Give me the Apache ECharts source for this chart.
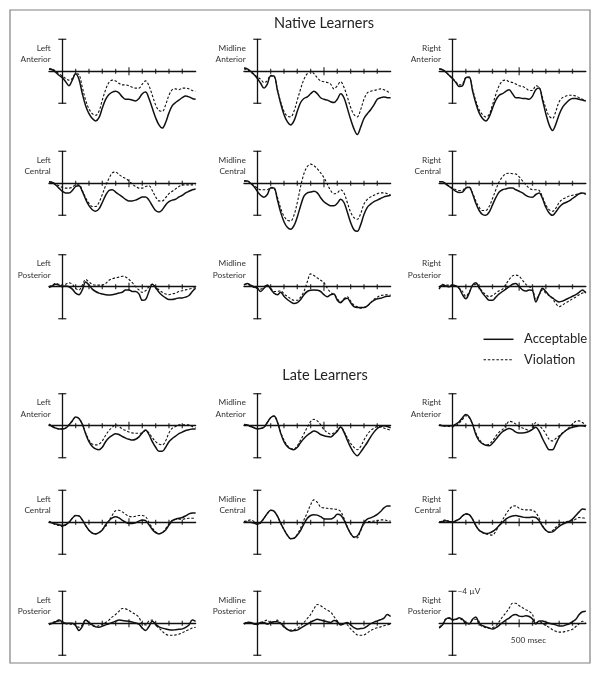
<!DOCTYPE html>
<html><head><meta charset="utf-8">
<script src="https://cdn.jsdelivr.net/npm/echarts@6/dist/echarts.min.js"></script>
<style>html,body{margin:0;padding:0;background:#fff}#c{width:602px;height:674px}</style>
</head><body><div id="c"></div>
<script>
// ---------- data ----------
const times = [-100,-75,-50,-25,0,25,50,75,100,125,150,175,200,225,250,275,300,325,350,375,400,425,450,475,500,525,550,575,600,625,650,675,700,725,750,775,800,825,850,875,900,925,950,975,1000];
const groupTitles = ['Native Learners', 'Late Learners'];
const hemiLabels = ['Left', 'Midline', 'Right'];
const regionLabels = ['Anterior', 'Central', 'Posterior'];
const legendLabels = ['Acceptable', 'Violation'];
const xTicks = [100,200,300,400,500,600,700,800,900];
const yLimits = [-4, 4];
const scaleLabel = '\u22124 \u00b5V';
const timeLabel = '500 msec';

// Native learners (µV, negative plotted up)
const NLA_acc = [-0.3,-0.2,0.1,0.5,0.8,1.3,1.8,1.1,0.3,1.0,2.8,4.3,5.3,5.9,6.2,5.8,4.6,3.5,2.9,2.6,2.5,2.7,3.2,3.5,3.5,3.6,3.7,3.4,2.8,2.6,3.4,4.6,5.8,6.7,7.1,6.4,5.2,4.3,3.9,3.6,3.3,3.1,3.2,3.4,3.5];
const NLA_vio = [-0.3,-0.3,0,0.3,0.6,0.9,1.1,0.9,0.3,0.4,2.0,3.6,4.7,5.3,5.5,5.0,3.6,2.3,1.4,1.1,1.2,1.5,1.7,1.7,1.8,2.0,2.1,2.1,1.6,1.2,1.8,3.0,4.2,4.9,5.0,4.2,3.0,2.3,2.2,2.3,2.1,2.1,2.2,2.4,2.5];
const NMA_acc = [-0.4,-0.3,0.0,0.4,0.9,1.5,2.1,1.6,0.6,0.6,2.3,4.0,5.4,6.3,6.7,6.2,5.0,3.9,3.4,3.2,2.8,2.5,2.8,3.3,3.5,3.6,3.8,3.9,3.5,2.8,3.3,4.6,6.0,7.2,7.9,7.0,5.9,5.3,4.8,4.2,3.5,3.3,3.2,3.3,3.3];
const NMA_vio = [-0.3,-0.2,0.1,0.4,0.7,1.0,1.4,1.2,0.5,0.6,2.2,3.8,5.0,5.6,5.7,5.0,3.6,2.2,1.0,0.3,0.0,0.3,0.8,1.2,1.3,1.4,1.6,2.2,1.8,1.3,2.0,3.2,4.5,5.4,5.7,4.8,3.5,2.7,2.5,2.4,2.3,2.2,2.3,2.5,2.8];
const NRA_acc = [-0.3,-0.2,0.1,0.5,0.9,1.4,1.9,1.8,0.8,0.7,2.4,4.0,5.2,5.9,6.2,5.7,4.6,3.6,3.0,2.8,2.5,2.3,2.8,3.3,3.3,3.4,3.4,3.5,3.1,2.3,2.1,3.6,5.3,6.7,7.4,6.6,5.4,4.5,4.0,3.6,3.4,3.4,3.5,3.6,3.7];
const NRA_vio = [-0.3,-0.2,0.1,0.5,0.9,1.3,1.7,1.6,0.8,0.8,2.2,3.7,4.8,5.4,5.7,5.4,4.2,2.9,1.8,1.2,1.1,1.3,1.4,1.6,1.8,1.9,2.1,2.4,2.4,1.8,2.0,3.3,4.6,5.6,5.9,5.0,3.8,3.3,3.1,3.0,3.0,3.1,3.3,3.5,3.6];
const NLC_acc = [-0.2,-0.1,0.2,0.6,1.0,1.2,1.2,0.9,0.4,0.3,1.0,2.0,2.8,3.3,3.5,3.2,2.4,1.5,0.9,0.8,1.1,1.4,1.7,2.0,2.2,2.2,2.1,1.9,1.7,1.7,2.1,2.8,3.4,3.6,3.3,2.7,2.3,2.1,2.0,1.7,1.5,1.2,1.0,0.8,0.7];
const NLC_vio = [-0.2,-0.1,0.1,0.3,0.5,0.6,0.6,0.5,0.2,0.2,0.9,1.8,2.5,2.9,2.9,2.4,1.4,0.3,-0.6,-1.3,-1.4,-1.1,-0.8,-0.6,-0.3,0.1,0.4,0.6,0.6,0.4,0.3,0.9,1.7,2.2,2.2,1.8,1.3,1.0,0.7,0.4,0.2,0.2,0.2,0.2,0.2];
const NMC_acc = [-0.3,-0.3,0.0,0.4,1.0,1.5,1.75,1.4,0.6,0.6,2.0,3.6,4.8,5.5,5.75,5.3,4.2,2.8,1.6,1.2,1.1,1.0,1.2,1.8,2.3,2.6,2.8,2.8,2.5,2.0,2.4,3.6,4.9,5.8,6.0,5.2,3.9,3.0,2.6,2.3,2.1,1.9,1.7,1.6,1.5];
const NMC_vio = [-0.3,-0.3,0.0,0.3,0.6,0.8,0.8,0.8,0.5,0.6,1.7,3.1,4.1,4.6,4.7,4.0,2.4,0.4,-1.2,-2.1,-2.4,-2.2,-1.8,-1.3,-0.7,0.1,0.9,1.3,1.2,0.8,1.2,2.4,3.6,4.3,4.5,3.8,2.6,2.0,1.7,1.5,1.3,1.2,1.2,1.3,1.5];
const NRC_acc = [-0.2,-0.2,0.1,0.4,0.7,1.0,1.15,1.1,0.6,0.5,1.3,2.5,3.4,3.9,4.0,3.6,2.7,1.8,1.1,0.8,0.7,0.6,0.6,0.8,1.0,1.2,1.5,1.7,1.75,1.4,1.2,1.9,3.0,3.7,4.0,3.6,3.0,2.6,2.4,2.2,1.9,1.6,1.3,1.2,1.4];
const NRC_vio = [-0.2,-0.2,0.1,0.3,0.6,0.8,0.9,0.9,0.5,0.5,1.2,2.2,3.0,3.4,3.4,2.9,1.9,0.8,-0.2,-0.8,-1.2,-1.25,-1.2,-1.15,-0.8,-0.3,0.2,0.6,0.8,0.8,0.9,1.7,2.7,3.3,3.5,3.1,2.4,2.0,1.8,1.6,1.5,1.4,1.3,1.2,1.25];
const NLP_acc = [0.1,-0.1,-0.3,-0.2,0.0,-0.1,0.0,0.3,0.8,1.0,0.4,-0.6,-0.2,0.3,0.6,0.8,0.9,1.0,1.05,1.0,0.9,0.8,0.7,0.4,0.4,0.6,0.6,0.9,1.7,1.6,0.6,-0.3,0.1,0.7,1.1,1.4,1.6,1.6,1.5,1.4,1.4,1.3,1.1,0.6,0.2];
const NLP_vio = [0.0,-0.2,-0.4,-0.3,-0.2,-0.3,-0.5,-0.3,0.2,0.4,-0.2,-0.9,-0.6,-0.3,-0.2,-0.2,-0.2,-0.4,-0.8,-1.0,-1.1,-1.2,-1.3,-1.2,-0.9,-0.5,0.0,0.4,0.7,0.5,0.0,-0.3,0.0,0.4,0.7,0.9,1.0,0.9,0.8,0.6,0.5,0.4,0.3,0.2,0.1];
const NMP_acc = [-0.2,-0.4,-0.2,0.0,0.2,0.6,0.2,-0.2,0.3,0.8,1.0,0.7,1.2,1.6,1.9,2.1,2.0,1.6,1.0,0.6,0.45,0.4,0.45,0.6,1.0,1.25,1.0,0.9,1.7,2.0,1.6,1.45,2.0,2.5,2.6,2.6,2.6,2.4,2.0,1.7,1.5,1.45,1.3,1.2,1.15];
const NMP_vio = [-0.3,-0.3,-0.1,0.1,0.2,0.3,0.0,-0.2,0.2,0.6,0.6,0.5,0.9,1.2,1.5,1.7,1.7,1.3,0.6,-0.6,-1.6,-1.4,-1.1,-0.8,-0.5,0.2,0.7,1.0,1.5,1.9,1.5,1.25,1.8,2.3,2.5,2.7,2.6,2.4,2.0,1.6,1.3,1.1,1.05,1.0,1.05];
const NRP_acc = [0.3,-0.2,-0.1,0.0,-0.2,-0.1,0.2,1.0,1.5,0.8,-0.2,-0.5,0.1,0.8,1.3,1.7,1.7,1.3,0.9,0.6,0.3,0.0,-0.3,-0.4,0.0,0.4,0.55,0.4,0.5,1.9,1.0,0.2,0.6,1.1,1.4,1.7,1.9,1.8,1.6,1.4,1.2,1.0,0.7,0.4,0.8];
const NRP_vio = [0.1,-0.3,-0.2,-0.2,-0.2,-0.1,0.2,0.6,1.2,0.7,-0.1,-0.3,0.1,0.6,1.0,1.25,1.1,0.8,0.5,0.3,-0.3,-0.9,-1.35,-1.45,-1.3,-0.8,-0.3,0.0,0.3,1.6,1.0,0.4,0.8,1.1,1.5,2.1,2.5,2.3,2.0,1.8,1.5,1.3,1.0,0.8,0.6];
// Late learners
const LLA_acc = [-0.2,0.1,0.3,0.4,0.4,0.3,-0.1,-0.6,-1.1,-0.9,-0.2,1.0,2.0,2.6,2.9,3.0,2.7,2.0,1.5,1.2,1.0,1.1,1.35,1.55,1.7,1.8,1.7,1.4,0.9,0.55,1.1,2.0,2.7,3.2,3.2,2.7,2.0,1.6,1.3,1.0,0.8,0.6,0.5,0.4,0.4];
const LLA_vio = [-0.2,0.1,0.3,0.4,0.4,0.3,-0.1,-0.6,-1.1,-0.9,-0.2,0.9,1.8,2.3,2.4,2.3,1.9,1.2,0.6,0.2,-0.1,0.1,0.4,0.6,0.8,0.9,0.95,0.95,0.9,0.6,0.9,1.5,2.0,2.3,2.4,1.9,0.9,0.3,0.1,-0.1,-0.1,-0.1,-0.1,0.1,0.3];
const LMA_acc = [-0.15,-0.1,0.1,0.25,0.4,0.35,0.2,-0.4,-1.0,-1.2,-0.5,0.9,2.0,2.6,2.9,3.0,2.7,2.1,1.6,1.2,0.9,0.65,0.8,1.1,1.25,1.35,1.4,1.1,0.7,0.15,0.8,1.8,2.7,3.4,3.75,3.3,2.7,2.1,1.4,0.8,0.35,0.1,0.0,0.1,0.25];
const LMA_vio = [-0.15,-0.1,0.1,0.25,0.35,0.35,0.2,-0.4,-1.0,-1.2,-0.5,0.8,1.8,2.5,2.85,2.9,2.5,1.8,1.0,0.2,-0.5,-0.8,-0.6,-0.1,0.5,0.85,1.05,0.9,0.6,0.15,0.7,1.5,2.2,2.7,3.0,2.6,1.8,1.1,0.6,0.3,0.1,0.15,0.3,0.45,0.55];
const LRA_acc = [-0.1,0.0,0.0,0.0,0.0,-0.2,-0.5,-1.0,-1.4,-1.1,-0.2,1.1,1.9,2.25,2.45,2.5,2.2,1.7,1.2,0.75,0.5,0.35,0.5,0.8,0.9,0.9,0.85,0.7,0.45,0.2,0.7,1.6,2.4,3.0,3.0,2.3,1.45,0.95,0.6,0.35,0.2,0.1,0.0,0.0,0.1];
const LRA_vio = [-0.1,0.0,0.1,0.1,0.15,0.0,-0.3,-0.8,-1.25,-1.0,-0.2,0.9,1.7,2.2,2.4,2.3,1.9,1.3,0.8,0.5,0.0,-0.55,-0.45,-0.2,0.1,0.3,0.45,0.6,0.4,-0.4,0.0,0.4,1.0,1.7,1.9,1.6,1.25,0.9,0.6,0.2,-0.2,-0.55,-0.6,-0.4,-0.1];
const LLC_acc = [-0.1,0.1,0.2,0.3,0.4,0.3,0.0,-0.5,-0.85,-0.8,-0.3,0.4,1.0,1.35,1.45,1.3,0.95,0.3,-0.2,-0.55,-0.7,-0.55,-0.25,0.0,0.15,0.15,0.05,-0.15,-0.3,-0.2,0.3,0.9,1.3,1.45,1.3,0.95,0.35,-0.2,-0.4,-0.5,-0.6,-0.8,-1.05,-1.15,-1.15];
const LLC_vio = [-0.1,0.1,0.3,0.4,0.55,0.35,0.0,-0.5,-0.85,-0.8,-0.3,0.4,1.0,1.35,1.45,1.3,0.9,0.5,-0.2,-0.9,-1.45,-1.5,-1.3,-1.0,-0.75,-0.7,-0.75,-0.85,-0.85,-0.7,0.0,0.7,1.2,1.4,1.3,0.8,0.2,-0.25,-0.35,-0.4,-0.4,-0.45,-0.5,-0.5,-0.5];
const LMC_acc = [-0.1,0.0,0.0,0.1,0.25,0.0,-0.5,-1.1,-1.5,-1.4,-0.8,0.1,0.9,1.6,2.05,2.0,1.6,1.0,0.2,-0.5,-0.85,-0.95,-0.9,-0.7,-0.45,-0.4,-0.4,-0.6,-1.0,-0.9,-0.3,0.6,1.4,1.85,1.7,1.0,0.0,-0.4,-0.55,-0.75,-1.0,-1.35,-1.8,-2.05,-2.05];
const LMC_vio = [-0.1,-0.2,-0.3,-0.1,0.25,0.1,-0.5,-1.1,-1.5,-1.4,-0.8,0.1,0.9,1.6,2.05,2.0,1.5,0.7,-0.3,-1.2,-2.2,-2.8,-2.5,-1.9,-1.8,-1.75,-1.7,-1.65,-1.6,-1.35,-0.5,0.6,1.4,1.9,1.95,1.0,0.2,-0.1,-0.1,-0.15,-0.2,-0.3,-0.3,-0.2,-0.15];
const LRC_acc = [0.0,-0.1,-0.2,-0.1,0.0,-0.2,-0.4,-0.8,-1.05,-0.95,-0.4,0.4,1.0,1.25,1.4,1.35,1.15,0.85,0.4,0.0,-0.4,-0.65,-0.8,-0.85,-0.75,-0.65,-0.6,-0.6,-0.65,-0.6,-0.2,0.5,1.0,1.25,1.2,0.85,0.5,0.25,0.05,-0.1,-0.4,-0.85,-1.3,-1.65,-1.6];
const LRC_vio = [0.0,-0.2,-0.3,-0.1,0.0,-0.2,-0.4,-0.8,-1.1,-0.95,-0.4,0.4,1.0,1.3,1.45,1.55,1.6,1.1,0.4,-0.3,-1.0,-1.6,-2.0,-2.05,-1.75,-1.6,-1.55,-1.55,-1.5,-1.2,-0.5,0.4,1.0,1.25,1.05,0.6,0.3,0.05,-0.1,-0.15,-0.2,-0.4,-0.6,-0.55,-0.5];
const LLP_acc = [0.15,0.0,-0.2,-0.4,-0.2,0.0,0.0,0.0,0.3,0.9,0.4,-0.4,-0.1,0.2,0.45,0.5,0.35,0.2,0.05,-0.1,-0.25,-0.4,-0.35,-0.3,-0.25,-0.15,-0.05,0.1,0.6,0.9,0.4,-0.25,0.1,0.45,0.6,0.7,0.8,0.85,0.8,0.75,0.7,0.5,0.2,-0.4,-0.25];
const LLP_vio = [0.1,-0.1,-0.2,-0.25,-0.1,0.05,0.1,0.1,0.2,0.5,0.2,-0.45,-0.1,0.3,0.4,0.3,0.15,-0.1,-0.4,-0.8,-1.1,-1.5,-1.85,-1.8,-1.6,-1.35,-1.1,-0.75,0.1,0.2,-0.3,-0.4,0.2,0.6,1.0,1.35,1.5,1.5,1.45,1.35,1.2,0.95,0.8,0.6,0.5];
const LMP_acc = [0.1,-0.1,-0.1,0.1,0.15,-0.1,-0.1,0.1,-0.1,-0.2,-0.2,0.0,0.4,0.75,0.95,0.9,0.85,0.6,0.35,0.1,-0.15,-0.35,-0.5,-0.4,-0.3,-0.2,-0.1,-0.35,-0.2,0.2,0.05,-0.1,0.2,0.55,0.7,0.65,0.6,0.35,0.05,-0.15,-0.3,-0.45,-0.65,-1.1,-0.85];
const LMP_vio = [0.05,-0.15,-0.1,0.0,0.0,-0.1,-0.25,-0.4,-0.1,-0.2,-0.4,0.0,0.5,0.75,0.85,0.8,0.65,0.3,-0.1,-0.6,-1.1,-1.8,-2.35,-2.2,-1.9,-1.65,-1.4,-0.85,-0.3,0.1,0.0,0.2,0.7,1.1,1.45,1.5,1.45,1.2,0.9,0.7,0.55,0.45,0.3,0.2,0.1];
const LRP_acc = [0.6,0.2,-0.5,-0.7,-0.45,-0.5,-0.7,-0.5,-0.1,0.1,-0.5,-0.8,0.0,0.3,0.45,0.6,0.7,0.55,0.25,-0.1,-0.4,-0.65,-1.0,-1.1,-0.9,-0.85,-0.95,-0.85,-0.55,0.1,-0.3,-0.3,-0.15,0.0,0.1,0.2,0.35,0.35,0.2,0.05,-0.2,-0.5,-1.1,-1.45,-1.5];
const LRP_vio = [0.5,0.1,-0.55,-0.6,-0.4,-0.5,-0.6,-0.4,0.0,0.0,-0.4,-0.5,0.1,0.4,0.55,0.6,0.55,0.3,-0.2,-0.8,-1.3,-1.9,-2.5,-2.5,-2.2,-1.95,-1.7,-1.5,-1.1,-0.1,-0.2,0.0,0.3,0.5,0.8,1.0,1.1,1.1,1.0,0.9,0.75,0.4,0.05,-0.25,0.0];

const panels = [
  {g:0,r:0,c:0,acc:NLA_acc,vio:NLA_vio},{g:0,r:0,c:1,acc:NMA_acc,vio:NMA_vio},{g:0,r:0,c:2,acc:NRA_acc,vio:NRA_vio},
  {g:0,r:1,c:0,acc:NLC_acc,vio:NLC_vio},{g:0,r:1,c:1,acc:NMC_acc,vio:NMC_vio},{g:0,r:1,c:2,acc:NRC_acc,vio:NRC_vio},
  {g:0,r:2,c:0,acc:NLP_acc,vio:NLP_vio},{g:0,r:2,c:1,acc:NMP_acc,vio:NMP_vio},{g:0,r:2,c:2,acc:NRP_acc,vio:NRP_vio},
  {g:1,r:0,c:0,acc:LLA_acc,vio:LLA_vio},{g:1,r:0,c:1,acc:LMA_acc,vio:LMA_vio},{g:1,r:0,c:2,acc:LRA_acc,vio:LRA_vio},
  {g:1,r:1,c:0,acc:LLC_acc,vio:LLC_vio},{g:1,r:1,c:1,acc:LMC_acc,vio:LMC_vio},{g:1,r:1,c:2,acc:LRC_acc,vio:LRC_vio},
  {g:1,r:2,c:0,acc:LLP_acc,vio:LLP_vio},{g:1,r:2,c:1,acc:LMP_acc,vio:LMP_vio},{g:1,r:2,c:2,acc:LRP_acc,vio:LRP_vio}
];

// ---------- layout ----------
const colX = [62.3, 257.3, 452.5];               // pixel x of t = 0
const rowZ = [[71.3, 183.3, 286.7], [425.7, 522.3, 623.3]]; // pixel y of 0 µV
const pxPerMs = 0.13333;
const halfH = 32;
const INK = '#111';
const FONT = 'Lato, "Open Sans", sans-serif';
const ACC_STYLE = {color: INK, width: 1.5};
const VIO_STYLE = {color: INK, width: 1.1, type: [2.5, 1.8]};

const grids = [], xAxes = [], yAxes = [], series = [], graphics = [];
panels.forEach((p, i) => {
  const X = colX[p.c], Z = rowZ[p.g][p.r];
  grids.push({left: X - (0 - times[0]) * pxPerMs, top: Z - halfH,
    width: (times[times.length-1] - times[0]) * pxPerMs, height: 2 * halfH,
    containLabel: false, outerBoundsMode: 'none'});
  xAxes.push({gridIndex: i, type: 'value', min: times[0], max: times[times.length-1],
    axisLine: {onZero: true, lineStyle: {color: INK, width: 1.3}},
    axisTick: {show: false}, axisLabel: {show: false}, splitLine: {show: false}});
  yAxes.push({gridIndex: i, type: 'value', min: yLimits[0], max: yLimits[1], inverse: true,
    axisLine: {show: true, onZero: true, lineStyle: {color: INK, width: 1.3}},
    axisTick: {show: false}, axisLabel: {show: false}, splitLine: {show: false}});
  series.push({type: 'line', name: legendLabels[0], xAxisIndex: i, yAxisIndex: i,
    data: times.map((t, k) => [t, p.acc[k]]), smooth: 0.35, symbol: 'none', clip: false,
    lineStyle: ACC_STYLE, itemStyle: {color: INK}, z: 4, silent: true});
  series.push({type: 'line', name: legendLabels[1], xAxisIndex: i, yAxisIndex: i,
    data: times.map((t, k) => [t, p.vio[k]]), smooth: 0.35, symbol: 'none', clip: false,
    lineStyle: VIO_STYLE, itemStyle: {color: INK}, z: 3, silent: true});
  series.push({type: 'scatter', xAxisIndex: i, yAxisIndex: i, silent: true, z: 5,
    data: xTicks.map(t => [t, 0]).concat([[0, yLimits[0]], [0, yLimits[1]]]),
    symbol: 'rect',
    symbolSize: v => v[0] === 0 ? [8, 1.4] : (v[0] === 500 ? [1.3, 8] : [1.3, 5]),
    itemStyle: {color: INK}});
  graphics.push({type: 'text', x: X - 11.5, y: Z - 17.3, silent: true,
    style: {text: hemiLabels[p.c] + '\n' + regionLabels[p.r], align: 'right', textAlign: 'right',
      verticalAlign: 'middle', textVerticalAlign: 'middle', lineHeight: 11.6,
      fontSize: 8.3, fontFamily: FONT, fill: '#333'}});
});

graphics.push({type: 'rect', shape: {x: 10, y: 10, width: 580, height: 653}, silent: true,
  style: {fill: 'none', stroke: '#808080', lineWidth: 1.2}});
graphics.push({type: 'text', x: 324, y: 23.2, silent: true,
  style: {text: groupTitles[0], align: 'center', textAlign: 'center', verticalAlign: 'middle',
    textVerticalAlign: 'middle', fontSize: 14.5, fontFamily: FONT, fill: '#222'}});
graphics.push({type: 'text', x: 325, y: 375.5, silent: true,
  style: {text: groupTitles[1], align: 'center', textAlign: 'center', verticalAlign: 'middle',
    textVerticalAlign: 'middle', fontSize: 14.5, fontFamily: FONT, fill: '#222'}});
graphics.push({type: 'text', x: 457.5, y: 591.5, silent: true,
  style: {text: scaleLabel, align: 'left', textAlign: 'left', verticalAlign: 'middle',
    textVerticalAlign: 'middle', fontSize: 8.3, fontFamily: FONT, fill: '#333'}});
graphics.push({type: 'text', x: 528.5, y: 640, silent: true,
  style: {text: timeLabel, align: 'center', textAlign: 'center', verticalAlign: 'middle',
    textVerticalAlign: 'middle', fontSize: 8.3, fontFamily: FONT, fill: '#333'}});
// legend key
[339.3, 359.8].forEach((ly, k) => {
  const ls = k === 0 ? ACC_STYLE : VIO_STYLE;
  graphics.push({type: 'line', silent: true, shape: {x1: 483.5, y1: ly, x2: 513.5, y2: ly},
    style: {stroke: ls.color, lineWidth: ls.width, lineDash: k === 0 ? null : ls.type}});
  graphics.push({type: 'text', x: 524, y: ly, silent: true,
    style: {text: legendLabels[k], align: 'left', textAlign: 'left', verticalAlign: 'middle',
      textVerticalAlign: 'middle', fontSize: 13, fontFamily: FONT, fill: '#222'}});
});

const chart = echarts.init(document.getElementById('c'), null, {renderer: 'canvas'});
chart.setOption({
  animation: false,
  backgroundColor: '#fff',
  grid: grids, xAxis: xAxes, yAxis: yAxes, series: series,
  graphic: graphics
});
</script></body></html>
